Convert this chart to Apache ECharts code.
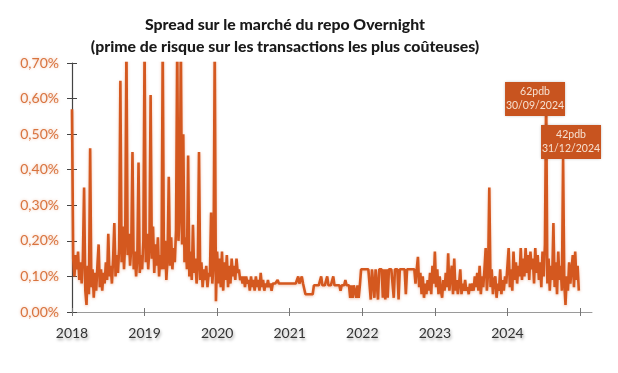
<!DOCTYPE html>
<html>
<head>
<meta charset="utf-8">
<script src="https://cdn.jsdelivr.net/npm/echarts@6/dist/echarts.min.js"></script>
<style>html,body{margin:0;padding:0;background:#fff}#c{width:618px;height:373px}</style>
</head>
<body>
<div id="c"></div>
<script>
// Spread values (in %), evenly spread through each year (60 readings per year)
const years = [2018, 2019, 2020, 2021, 2022, 2023, 2024];
const s2018 = [0.57,0.15,0.10,0.16,0.12,0.17,0.09,0.14,0.08,0.15,0.35,0.06,0.02,0.13,0.05,0.46,0.07,0.12,0.04,0.11,0.06,0.13,0.19,0.07,0.12,0.06,0.11,0.08,0.14,0.09,0.22,0.10,0.13,0.08,0.15,0.25,0.10,0.16,0.11,0.18,0.65,0.14,0.24,0.12,0.20,0.75,0.16,0.22,0.13,0.18,0.45,0.12,0.17,0.10,0.15,0.42,0.11,0.16,0.12,0.20];
const s2019 = [0.75,0.14,0.22,0.12,0.18,0.61,0.15,0.24,0.11,0.19,0.13,0.21,0.10,0.16,0.12,0.75,0.12,0.20,0.09,0.15,0.38,0.13,0.21,0.12,0.18,0.14,0.23,0.75,0.20,0.27,0.75,0.19,0.50,0.14,0.21,0.12,0.44,0.10,0.17,0.09,0.245,0.11,0.15,0.08,0.13,0.45,0.09,0.14,0.07,0.12,0.09,0.13,0.07,0.11,0.10,0.28,0.08,0.13,0.75,0.03];
const s2020 = [0.17,0.08,0.15,0.07,0.17,0.06,0.14,0.09,0.16,0.07,0.13,0.08,0.15,0.10,0.13,0.09,0.15,0.11,0.12,0.09,0.10,0.08,0.10,0.07,0.10,0.08,0.09,0.06,0.10,0.07,0.09,0.06,0.10,0.07,0.09,0.06,0.11,0.07,0.09,0.06,0.08,0.07,0.09,0.07,0.08,0.06,0.08,0.08,0.08,0.08,0.09,0.08,0.08,0.08,0.08,0.08,0.08,0.08,0.08,0.08];
const s2021 = [0.08,0.08,0.08,0.08,0.08,0.08,0.085,0.10,0.08,0.08,0.10,0.08,0.08,0.05,0.05,0.05,0.05,0.05,0.05,0.05,0.075,0.075,0.075,0.075,0.075,0.075,0.10,0.075,0.075,0.075,0.075,0.10,0.075,0.075,0.075,0.075,0.10,0.075,0.075,0.075,0.075,0.075,0.06,0.075,0.075,0.075,0.09,0.075,0.075,0.075,0.04,0.075,0.04,0.075,0.075,0.04,0.075,0.04,0.075,0.12];
const s2022 = [0.12,0.12,0.12,0.12,0.12,0.12,0.12,0.035,0.12,0.12,0.04,0.12,0.12,0.035,0.12,0.12,0.12,0.04,0.12,0.035,0.12,0.04,0.12,0.12,0.12,0.12,0.04,0.12,0.12,0.12,0.035,0.12,0.12,0.12,0.12,0.12,0.05,0.12,0.12,0.12,0.12,0.12,0.12,0.12,0.08,0.12,0.155,0.07,0.11,0.05,0.10,0.04,0.08,0.05,0.09,0.06,0.11,0.05,0.13,0.08];
const s2023 = [0.17,0.07,0.12,0.05,0.10,0.06,0.04,0.09,0.06,0.11,0.07,0.165,0.06,0.10,0.13,0.05,0.15,0.06,0.09,0.05,0.08,0.12,0.05,0.08,0.06,0.09,0.06,0.07,0.05,0.08,0.06,0.08,0.06,0.10,0.07,0.11,0.06,0.13,0.05,0.10,0.07,0.12,0.18,0.06,0.11,0.35,0.07,0.12,0.05,0.09,0.10,0.04,0.08,0.06,0.12,0.05,0.09,0.06,0.10,0.08];
const s2024 = [0.08,0.18,0.07,0.12,0.06,0.17,0.09,0.14,0.08,0.13,0.10,0.18,0.09,0.15,0.10,0.18,0.11,0.16,0.09,0.17,0.12,0.15,0.08,0.18,0.11,0.16,0.09,0.14,0.07,0.17,0.10,0.19,0.62,0.08,0.15,0.06,0.13,0.09,0.25,0.07,0.14,0.05,0.17,0.09,0.13,0.06,0.43,0.08,0.02,0.10,0.06,0.14,0.08,0.12,0.16,0.07,0.17,0.09,0.13,0.06];
const yearSeries = [s2018, s2019, s2020, s2021, s2022, s2023, s2024];
const xTickYears = [2018, 2019, 2020, 2021, 2022, 2023, 2024, 2025];
const xLabelYears = [2018, 2019, 2020, 2021, 2022, 2023, 2024];
const notes = [
  { x: 2024.38, y: 0.599, text: '62pdb\n30/09/2024' },
  { x: 2024.876, y: 0.478, text: '42pdb\n31/12/2024' }
];

const data = [];
years.forEach((yr, k) => {
  const arr = yearSeries[k];
  arr.forEach((v, i) => data.push([yr + i / arr.length, v]));
});

const orange = '#D4581F';
const chart = echarts.init(document.getElementById('c'), null, { renderer: 'canvas' });
const xBase = { type: 'value', min: 2018, max: 2025.165, gridIndex: 0, position: 'bottom', offset: 0, splitLine: { show: false } };
const yBase = { type: 'value', min: 0, max: 0.7, interval: 0.1, position: 'left', offset: 0, splitLine: { show: false } };
chart.setOption({
  animation: false,
  backgroundColor: '#fff',
  title: {
    text: 'Spread sur le marché du repo Overnight\n(prime de risque sur les transactions les plus coûteuses)',
    left: 280, top: 9, textAlign: 'center',
    textStyle: { fontFamily: 'Lato', fontWeight: 900, fontSize: 15.8, lineHeight: 22, color: '#1a1a1a' }
  },
  grid: { left: 72, right: 26, top: 63, bottom: 61 },
  xAxis: [
    Object.assign({}, xBase, {
      axisLine: { show: true, lineStyle: { color: '#9a9a9a', width: 1 } },
      axisTick: { show: true, inside: false, length: 4, customValues: xTickYears, lineStyle: { color: '#777' } },
      axisLabel: {
        show: true, customValues: xLabelYears, margin: 14, formatter: v => String(Math.round(v)),
        fontFamily: 'Lato', fontSize: 14, color: '#333',
        textShadowColor: 'rgba(0,0,0,0.35)', textShadowBlur: 3, textShadowOffsetX: 1, textShadowOffsetY: 2
      }
    }),
    Object.assign({}, xBase, {
      axisLine: { show: false },
      axisTick: { show: true, inside: true, length: 4, customValues: xTickYears, lineStyle: { color: '#777' } },
      axisLabel: { show: false }
    })
  ],
  yAxis: [
    Object.assign({}, yBase, {
      axisLine: { show: true, lineStyle: { color: '#444', width: 1.2 } },
      axisTick: { show: true, inside: false, length: 5, lineStyle: { color: '#444' } },
      axisLabel: {
        show: true, margin: 13, formatter: v => v.toFixed(2).replace('.', ',') + '%',
        fontFamily: 'Lato', fontSize: 14, color: '#D9743F',
        textShadowColor: 'rgba(217,116,63,0.45)', textShadowBlur: 3
      }
    }),
    Object.assign({}, yBase, {
      axisLine: { show: false },
      axisTick: { show: true, inside: true, length: 5, lineStyle: { color: '#444' } },
      axisLabel: { show: false }
    })
  ],
  series: [{
    type: 'line',
    xAxisIndex: 0, yAxisIndex: 0,
    data: data,
    showSymbol: false,
    clip: true,
    lineStyle: { color: orange, width: 2.6, shadowColor: 'rgba(212,88,31,0.35)', shadowBlur: 3, shadowOffsetY: 1 },
    markPoint: {
      symbol: 'rect',
      symbolSize: [60, 34],
      itemStyle: { color: '#C8541F', shadowColor: 'rgba(0,0,0,0.3)', shadowBlur: 3 },
      label: { show: true, position: 'inside', color: '#F6E0D0', fontFamily: 'Lato', fontSize: 10.5, lineHeight: 14 },
      data: notes.map(n => ({ coord: [n.x, n.y], value: n.text, label: { formatter: n.text } }))
    }
  }]
});
</script>
</body>
</html>
